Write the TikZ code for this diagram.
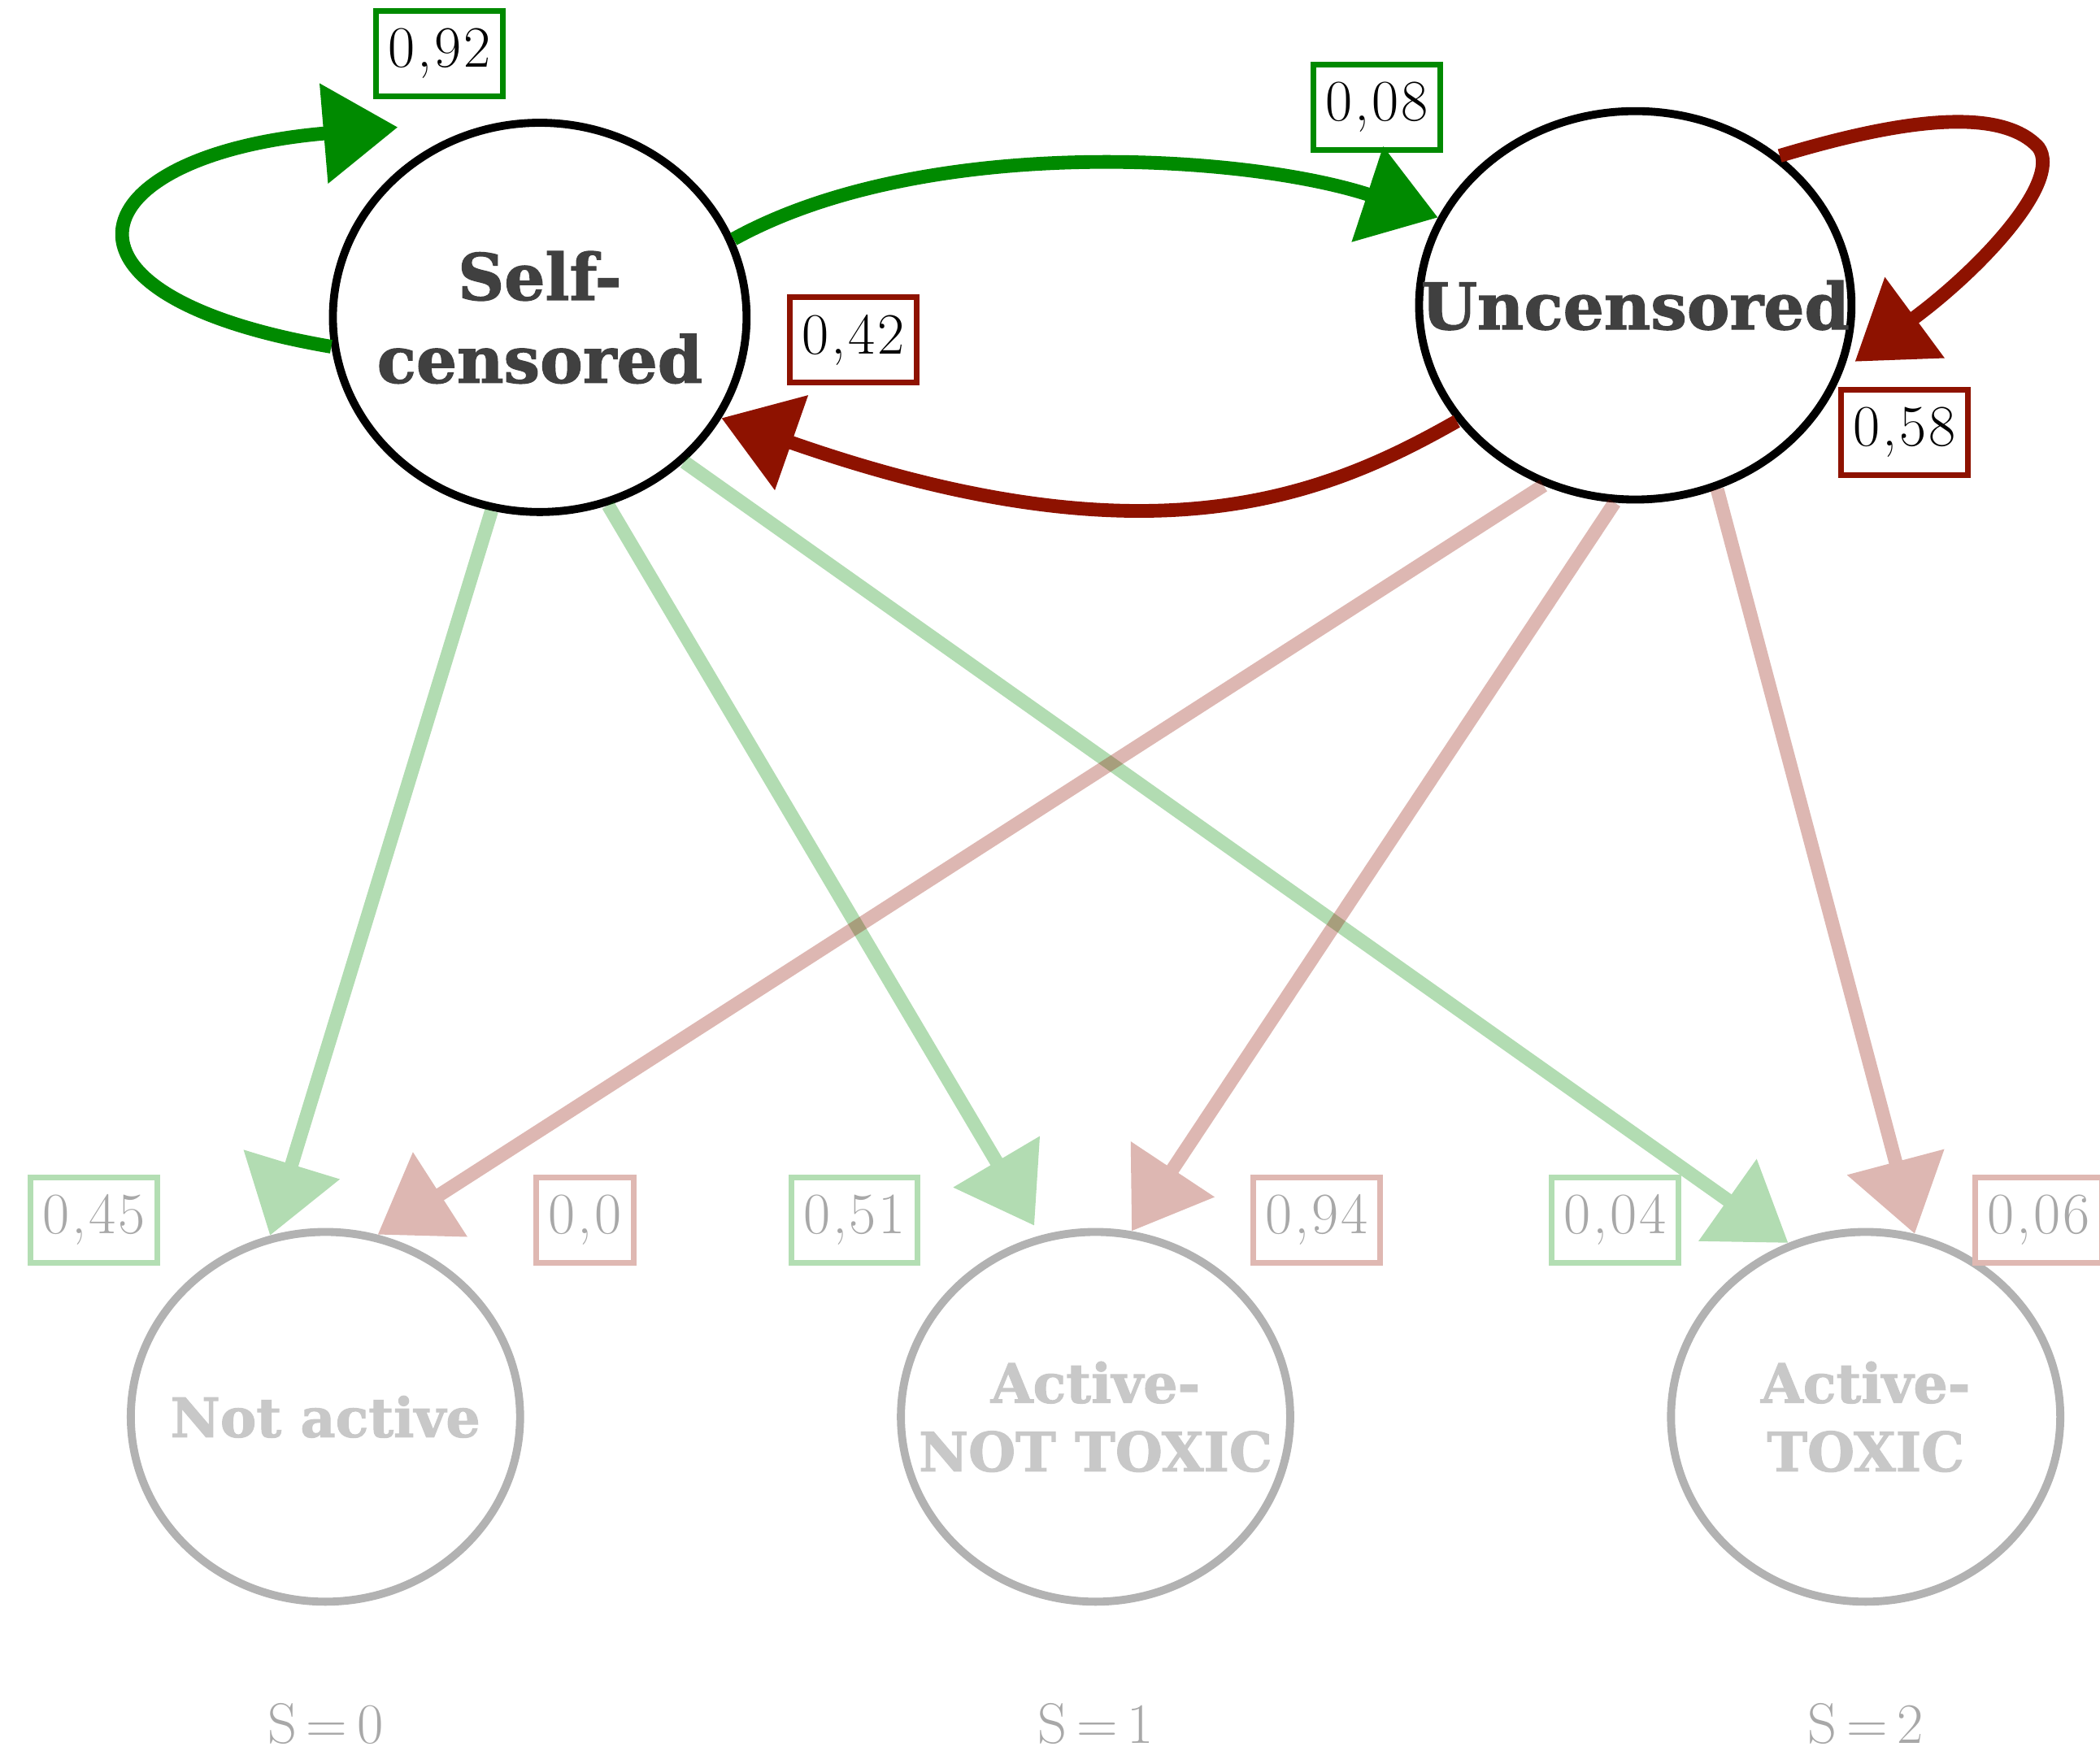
\documentclass[tikz,border=0pt]{standalone}
\usepackage{fontspec}
\newfontfamily\slabfont{DejaVu Serif}[BoldFeatures={FakeBold=1.5}]
\newfontfamily\numfont{Latin Modern Roman}[LetterSpace=4]
\usetikzlibrary{shapes.geometric,arrows.meta}
\definecolor{dgreen}{RGB}{0,138,0}
\definecolor{dred}{RGB}{142,18,0}
\definecolor{fgreen}{RGB}{179,222,179}
\definecolor{fred}{RGB}{223,184,178}
\definecolor{txtdark}{RGB}{64,64,64}
\definecolor{circgray}{RGB}{178,178,178}
\definecolor{txtgray}{RGB}{200,200,200}
\definecolor{numgray}{RGB}{168,168,168}
\begin{document}
\begin{tikzpicture}[x=0.016474cm,y=-0.016474cm,
  state/.style={ellipse, draw=black, line width=2.8pt, inner sep=0pt},
  outstate/.style={ellipse, draw=circgray, line width=2.8pt, inner sep=0pt,
    minimum width=4.79cm, minimum height=4.55cm},
  stext/.style={align=center, inner sep=0pt,
    font=\slabfont\bfseries\fontsize{22.5}{29}\selectfont, text=txtdark},
  otext/.style={align=center, inner sep=0pt,
    font=\slabfont\bfseries\fontsize{19}{24}\selectfont, text=txtgray},
  prob/.style={draw, line width=2pt, minimum height=1.05cm, inner xsep=0.15cm,
    font=\numfont\fontsize{20.5}{24}\selectfont, text=black},
  fprob/.style={prob, text=numgray},
  arr/.style={line width=4.8pt, -{Triangle[length=26pt,width=34pt]}},
  slabel/.style={font=\fontsize{20}{22}\selectfont, text=numgray}
]
\useasboundingbox (0,0) rectangle (1568,1307);

% states
\node[state, minimum width=5.09cm, minimum height=4.79cm] (sc) at (403,237) {};
\node[stext] (sctext) at (sc.center) {Self-\\censored};
\node[state, minimum width=5.32cm, minimum height=4.78cm] (un) at (1221,228) {};
\node[stext] (untext) at (un.center) {Uncensored};
\node[outstate] (na) at (243,1058) {};
\node[otext] (natext) at (na.center) {Not active};
\node[outstate] (ant) at (818,1058) {};
\node[otext] (anttext) at (ant.center) {Active-\\NOT TOXIC};
\node[outstate] (at) at (1393,1058) {};
\node[otext] (attext) at (at.center) {Active-\\TOXIC};

% free ends of the loops
\coordinate (t1) at (297,95);
\coordinate (t2) at (1385,270);

% faded emission arrows
\begin{scope}[transparency group, opacity=0.3]
  \draw[arr, dgreen] (sc.256) -- (na.107);
\end{scope}
\begin{scope}[transparency group, opacity=0.3]
  \draw[arr, dgreen, shorten >=4pt] (sc.290) -- (ant.107);
\end{scope}
\begin{scope}[transparency group, opacity=0.3]
  \draw[arr, dgreen] (sc.315) -- (at.114);
\end{scope}
\begin{scope}[transparency group, opacity=0.3]
  \draw[arr, dred] (un.243) -- (na.74);
\end{scope}
\begin{scope}[transparency group, opacity=0.3]
  \draw[arr, dred] (un.264) -- (ant.79);
\end{scope}
\begin{scope}[transparency group, opacity=0.3]
  \draw[arr, dred] (un.294) -- (at.75);
\end{scope}

% transition arrows
\draw[arr, dgreen] (sc.188) .. controls (20,220) and (60,115) .. (t1);
\draw[arr, dgreen] (sc.22) .. controls (690,100) and (930,115) .. (un.156);
\draw[arr, dred] (un.213) .. controls (990,370) and (860,425) .. (sc.331);
\draw[arr, dred] (un.46) .. controls (1400,95) and (1490,75) .. (1522,110)
   .. controls (1540,135) and (1480,200) .. (t2);

% probability labels
\node[prob, draw=dgreen] (p092) at (328,40) {0,92};
\node[prob, draw=dgreen] (p008) at (1028,80) {0,08};
\node[prob, draw=dred] (p042) at (637,254) {0,42};
\node[prob, draw=dred] (p058) at (1422,323) {0,58};
\node[fprob, draw=fgreen] (p045) at (70,911) {0,45};
\node[fprob, draw=fred] (p00) at (437,911) {0,0};
\node[fprob, draw=fgreen] (p051) at (638,911) {0,51};
\node[fprob, draw=fred] (p094) at (983,911) {0,94};
\node[fprob, draw=fgreen] (p004) at (1206,911) {0,04};
\node[fprob, draw=fred] (p006) at (1522,911) {0,06};

% state values
\node[slabel] (s0) at (243,1287) {S\,=\,0};
\node[slabel] (s1) at (818,1287) {S\,=\,1};
\node[slabel] (s2) at (1393,1287) {S\,=\,2};
\end{tikzpicture}
\end{document}
